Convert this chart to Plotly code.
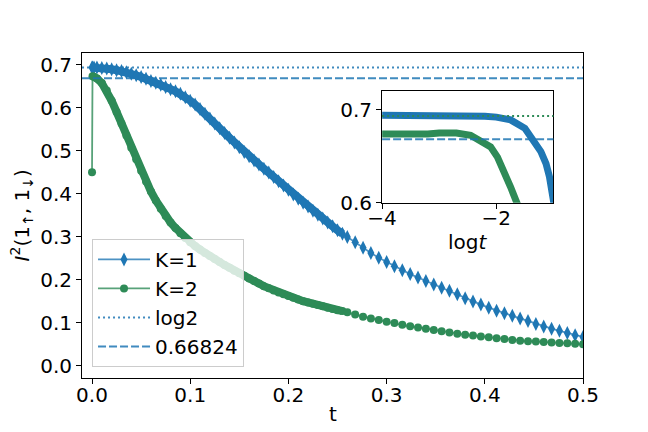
import plotly.graph_objects as go

# time grid (dense at start, coarser after t=0.26)
t = [0.0, 0.0005, 0.002, 0.005, 0.01, 0.015, 0.02, 0.025, 0.03, 0.035, 0.04, 0.045,
     0.05, 0.055, 0.06, 0.065, 0.07, 0.075, 0.08, 0.085, 0.09, 0.095, 0.1, 0.105,
     0.11, 0.115, 0.12, 0.125, 0.13, 0.135, 0.14, 0.145, 0.15, 0.155, 0.16, 0.165,
     0.17, 0.175, 0.18, 0.185, 0.19, 0.195, 0.2, 0.205, 0.21, 0.215, 0.22, 0.225,
     0.23, 0.235, 0.24, 0.245, 0.25, 0.255,
     0.26, 0.268, 0.276, 0.284, 0.292, 0.3, 0.308, 0.316, 0.324, 0.332, 0.34, 0.348,
     0.356, 0.364, 0.372, 0.38, 0.388, 0.396, 0.404, 0.412, 0.42, 0.428, 0.436, 0.444,
     0.452, 0.46, 0.468, 0.476, 0.484, 0.492, 0.5]
n_dense = 54

k1 = [0.693, 0.693, 0.693, 0.693, 0.692, 0.691, 0.689, 0.687, 0.685, 0.682, 0.679, 0.675,
      0.671, 0.667, 0.662, 0.658, 0.653, 0.648, 0.643, 0.638, 0.632, 0.624, 0.616, 0.607,
      0.597, 0.586, 0.575, 0.563, 0.552, 0.541, 0.530, 0.519, 0.508, 0.497, 0.487, 0.477,
      0.468, 0.458, 0.449, 0.439, 0.429, 0.419, 0.409, 0.398, 0.388, 0.379, 0.370, 0.360,
      0.351, 0.342, 0.333, 0.324, 0.315, 0.307,
      0.299, 0.287, 0.274, 0.262, 0.251, 0.241, 0.231, 0.222, 0.213, 0.205, 0.197, 0.189,
      0.181, 0.174, 0.166, 0.157, 0.149, 0.142, 0.135, 0.128, 0.122, 0.116, 0.110, 0.104,
      0.097, 0.091, 0.086, 0.081, 0.076, 0.071, 0.067]

k2 = [0.450, 0.673, 0.672, 0.668, 0.657, 0.640, 0.616, 0.590, 0.563, 0.535, 0.507, 0.480,
      0.453, 0.428, 0.405, 0.384, 0.365, 0.348, 0.333, 0.320, 0.308, 0.297, 0.287, 0.278,
      0.270, 0.262, 0.255, 0.248, 0.241, 0.234, 0.228, 0.221, 0.215, 0.209, 0.203, 0.197,
      0.191, 0.185, 0.180, 0.175, 0.170, 0.166, 0.162, 0.158, 0.154, 0.150, 0.147, 0.144,
      0.141, 0.138, 0.135, 0.132, 0.129, 0.127,
      0.124, 0.119, 0.114, 0.110, 0.106, 0.102, 0.099, 0.095, 0.092, 0.089, 0.086, 0.083,
      0.080, 0.077, 0.074, 0.072, 0.070, 0.068, 0.066, 0.064, 0.062, 0.060, 0.058, 0.057,
      0.056, 0.055, 0.054, 0.053, 0.052, 0.051, 0.050]

# inset: log10 t
logt_k1 = [-4.0, -3.5, -3.0, -2.5, -2.2, -2.0, -1.75, -1.5, -1.34, -1.22, -1.13, -1.07, -1.01, -0.98]
ins_k1 = [0.694, 0.694, 0.694, 0.694, 0.693, 0.692, 0.689, 0.680, 0.667, 0.655, 0.642, 0.628, 0.606, 0.595]
logt_k2 = [-4.0, -3.7, -3.5, -3.2, -3.0, -2.7, -2.45, -2.28, -2.1, -1.98, -1.87, -1.75, -1.66, -1.6]
ins_k2 = [0.674, 0.674, 0.673, 0.674, 0.675, 0.675, 0.6725, 0.667, 0.660, 0.649, 0.635, 0.617, 0.603, 0.594]

log2 = 0.6931
c_val = 0.66824

blue = "#1f77b4"
green = "#2e8b57"
font = "DejaVu Sans"
fs = 20

fig = go.Figure()

# dense part drawn as a thick band, like overlapping markers
fig.add_trace(go.Scatter(x=t[1:n_dense], y=k1[1:n_dense], mode="lines",
                         line=dict(color=blue, width=8), showlegend=False, hoverinfo="skip"))
fig.add_trace(go.Scatter(x=t[1:n_dense], y=k2[1:n_dense], mode="lines",
                         line=dict(color=green, width=8), showlegend=False, hoverinfo="skip"))

fig.add_trace(go.Scatter(x=t, y=k1, mode="lines+markers", name="K=1", legendrank=1,
                         line=dict(color="rgba(31,119,180,0.8)", width=1.8),
                         marker=dict(symbol="diamond-tall", size=10, color=blue)))
fig.add_trace(go.Scatter(x=t, y=k2, mode="lines+markers", name="K=2", legendrank=2,
                         line=dict(color="rgba(46,139,87,0.8)", width=1.8),
                         marker=dict(symbol="circle", size=8, color=green)))

fig.add_hline(y=log2, line=dict(color=blue, width=2, dash="2px,3px"), opacity=0.85,
              showlegend=True, name="log2", legendrank=3)
fig.add_hline(y=c_val, line=dict(color=blue, width=2, dash="8px,3px"), opacity=0.85,
              showlegend=True, name="0.66824", legendrank=4)

# inset
fig.add_trace(go.Scatter(x=logt_k1, y=ins_k1, mode="lines", xaxis="x2", yaxis="y2",
                         line=dict(color=blue, width=7), showlegend=False))
fig.add_trace(go.Scatter(x=logt_k2, y=ins_k2, mode="lines", xaxis="x2", yaxis="y2",
                         line=dict(color=green, width=7), showlegend=False))
fig.add_shape(type="line", xref="x2 domain", yref="y2", x0=0, x1=1, y0=log2, y1=log2,
              line=dict(color=green, width=2, dash="2px,3px"))
fig.add_shape(type="line", xref="x2 domain", yref="y2", x0=0, x1=1, y0=c_val, y1=c_val,
              line=dict(color=blue, width=2, dash="8px,3px"), opacity=0.85)

axis_common = dict(showline=True, mirror=True, linecolor="black", linewidth=1,
                   ticks="outside", ticklen=5, tickwidth=1, tickcolor="black",
                   showgrid=False, zeroline=False)

# page body adds an 8px offset, so margins are shifted by 8px
fig.update_layout(
    width=648, height=432,
    margin=dict(l=74, r=73, t=45, b=62),
    paper_bgcolor="white", plot_bgcolor="white",
    font=dict(family=font, size=fs, color="black"),
    xaxis=dict(range=[-0.0102, 0.5], tickvals=[0, 0.1, 0.2, 0.3, 0.4, 0.5],
               tickformat=".1f", ticklabelstandoff=-6, **axis_common),
    yaxis=dict(range=[-0.0286, 0.727], tickvals=[0, 0.1, 0.2, 0.3, 0.4, 0.5, 0.6, 0.7],
               tickformat=".1f", **axis_common),
    xaxis2=dict(domain=[0.599, 0.941], anchor="y2", range=[-4, -1],
                tickvals=[-4, -2], ticktext=["\u22124", "\u22122"], ticklabelstandoff=-8,
                **axis_common),
    yaxis2=dict(domain=[0.539, 0.883], anchor="x2", range=[0.6, 0.72],
                tickvals=[0.6, 0.7], tickformat=".1f", **axis_common),
    legend=dict(x=0.02, y=0.034, xanchor="left", yanchor="bottom",
                bgcolor="rgba(255,255,255,0.8)", bordercolor="#cccccc", borderwidth=1,
                font=dict(size=fs), tracegroupgap=5, itemwidth=52),
    showlegend=True,
)

fig.add_annotation(text="t", xref="paper", yref="paper", x=0.5, y=-0.11,
                   xanchor="center", yanchor="middle", showarrow=False)
fig.add_annotation(text="<i>I</i><sup>2</sup>(1<sub>\u2191</sub>, 1<sub>\u2193</sub>)",
                   xref="paper", yref="paper", x=-0.12, y=0.5, textangle=-90,
                   xanchor="center", yanchor="middle", showarrow=False)
fig.add_annotation(text="log<i>t</i>", xref="paper", yref="paper", x=0.77, y=0.42,
                   xanchor="center", yanchor="middle", showarrow=False)

fig.write_html("out.html")
